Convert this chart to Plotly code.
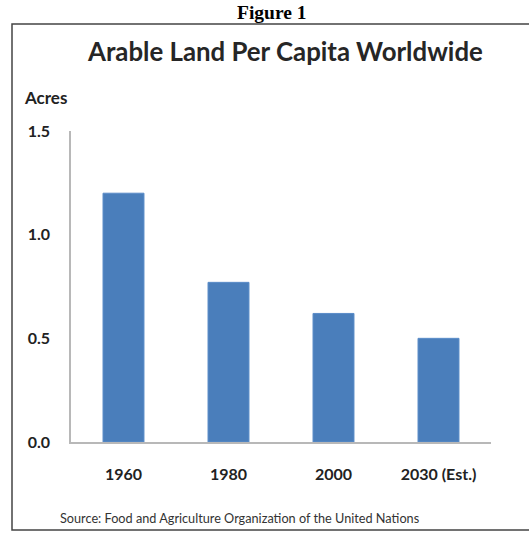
import plotly.graph_objects as go

categories = ["1960", "1980", "2000", "2030 (Est.)"]
acres = [1.20, 0.77, 0.62, 0.50]
y_ticks = [0.0, 0.5, 1.0, 1.5]
y_tick_labels = ["0.0", "0.5", "1.0", "1.5"]

W, H = 529, 533
L, R, T, B = 71, 38, 131, 91
PW, PH = W - L - R, H - T - B

def px(x):
    return (x - L) / PW

def py(y):
    return (H - B - y) / PH

FONT = "Lato"

fig = go.Figure(go.Bar(
    x=categories, y=acres,
    marker=dict(color="#4a7ebb", line=dict(color="#5a8cc8", width=1)),
    width=0.39,
))

fig.update_layout(
    width=W, height=H,
    margin=dict(l=L, r=R, t=T, b=B),
    paper_bgcolor="white", plot_bgcolor="white",
    showlegend=False,
    font=dict(family=FONT, color="#222222"),
    xaxis=dict(
        showgrid=False, showline=True, linecolor="#b8b8b8", linewidth=1.5,
        ticks="", tickfont=dict(family=FONT, size=16, color="#222222", weight="bold"),
        ticklabelstandoff=17, range=[-0.5, 3.5],
    ),
    yaxis=dict(
        range=[0, 1.5], showgrid=False, showline=True, linecolor="#b8b8b8", linewidth=1.5,
        ticks="", tickvals=y_ticks, ticktext=y_tick_labels,
        tickfont=dict(family=FONT, size=16, color="#222222", weight="bold"),
        ticklabelstandoff=16, zeroline=False,
    ),
    shapes=[dict(
        type="rect", xref="paper", yref="paper",
        x0=px(12), x1=px(540), y0=py(530), y1=py(24),
        line=dict(color="#444444", width=1.5), fillcolor="rgba(0,0,0,0)", layer="below",
    )],
    annotations=[
        dict(text="<b>Figure 1</b>", xref="paper", yref="paper", x=px(272), y=py(12),
             xanchor="center", yanchor="middle", showarrow=False,
             font=dict(family="Liberation Serif", size=19.5, color="black")),
        dict(text="<b>Arable Land Per Capita Worldwide</b>", xref="paper", yref="paper",
             x=px(285), y=py(51), xanchor="center", yanchor="middle", showarrow=False,
             font=dict(family=FONT, size=25.8, color="#262626")),
        dict(text="<b>Acres</b>", xref="paper", yref="paper", x=px(22), y=py(97),
             xanchor="left", yanchor="middle", showarrow=False,
             font=dict(family=FONT, size=17, color="#222222")),
        dict(text="Source: Food and Agriculture Organization of the United Nations",
             xref="paper", yref="paper", x=px(58), y=py(518), xanchor="left", yanchor="middle",
             showarrow=False, font=dict(family=FONT, size=12.7, color="#333333")),
    ],
)

fig.write_html("out.html", config={"displayModeBar": False},
               post_script="document.body.style.margin='0';")
